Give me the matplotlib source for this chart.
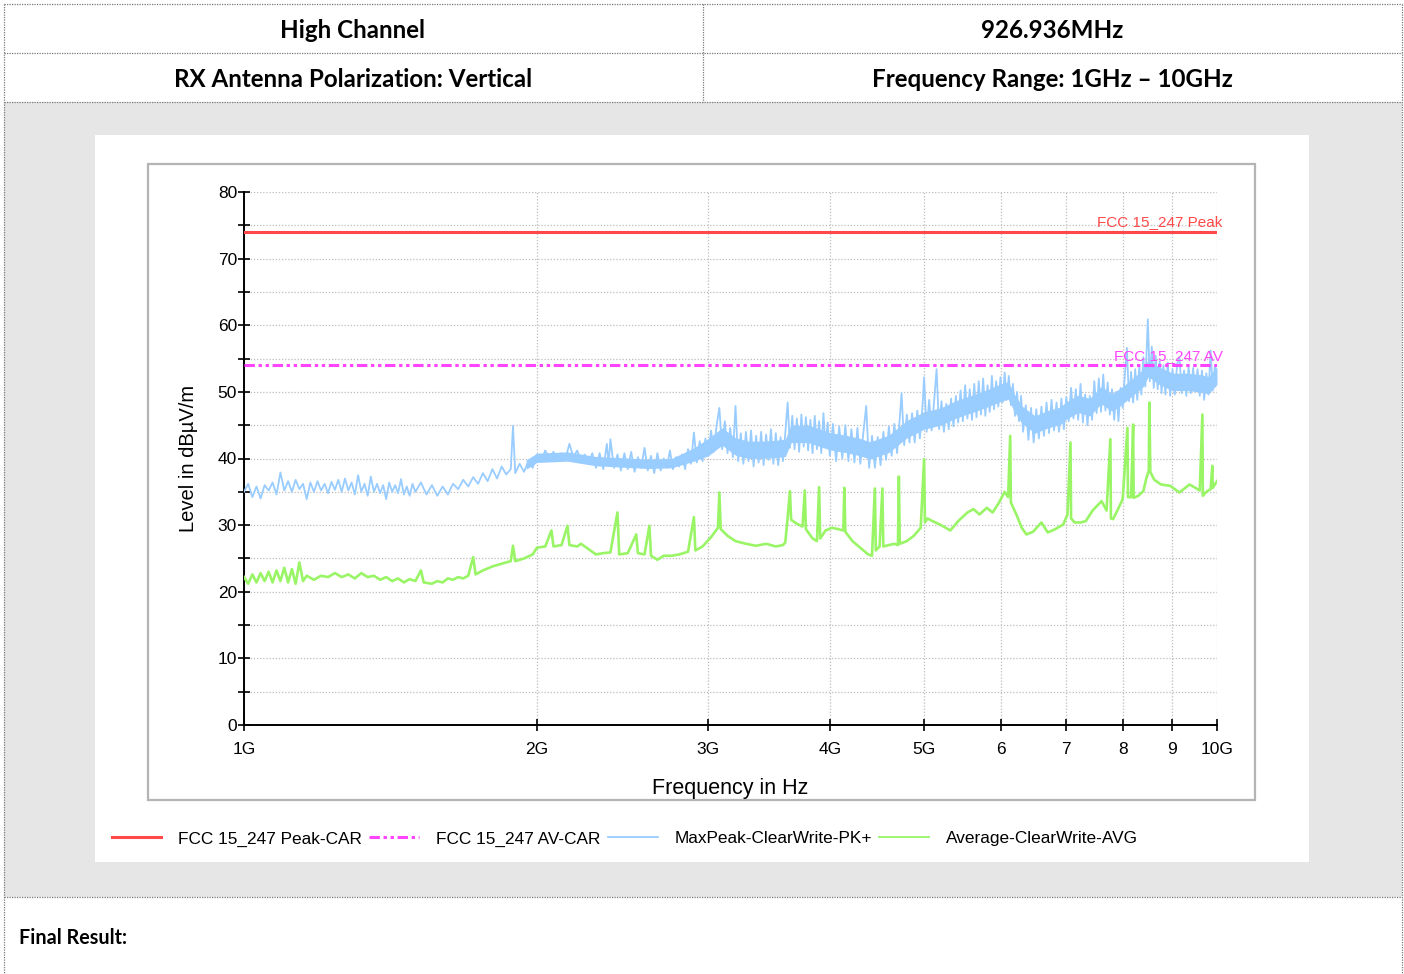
import matplotlib
matplotlib.use("Agg")
import matplotlib.pyplot as plt
from matplotlib.lines import Line2D
from matplotlib.patches import Rectangle
import matplotlib.transforms as mtransforms

# ---- data (frequency in GHz, level in dBuV/m) ----
peak_limit = 74.0
avg_limit = 54.0

pk_freq = [
    1.00, 1.01, 1.02, 1.03, 1.04, 1.05, 1.06, 1.07, 1.08, 1.09, 1.10, 1.11, 1.12, 1.13, 1.14, 1.15,
    1.16, 1.17, 1.18, 1.19, 1.20, 1.21, 1.22, 1.23, 1.24, 1.25, 1.26, 1.27, 1.28, 1.29, 1.30, 1.31,
    1.32, 1.33, 1.34, 1.35, 1.36, 1.37, 1.38, 1.39, 1.40, 1.41, 1.42, 1.43, 1.44, 1.45, 1.46, 1.47,
    1.48, 1.49, 1.50, 1.52, 1.54, 1.56, 1.58, 1.60, 1.62, 1.64, 1.66, 1.68, 1.70, 1.72, 1.74, 1.76,
    1.78, 1.80, 1.82, 1.84, 1.86, 1.88, 1.89, 1.90, 1.92, 1.94, 1.96, 1.98, 2.00, 2.02, 2.04, 2.06,
    2.08, 2.10, 2.12, 2.14, 2.16, 2.18, 2.20, 2.22, 2.24, 2.26, 2.28, 2.30, 2.32, 2.34, 2.36, 2.37,
    2.38, 2.40, 2.42, 2.44, 2.46, 2.48, 2.50, 2.52, 2.54, 2.56, 2.58, 2.60, 2.62, 2.64, 2.66, 2.68,
    2.70, 2.72, 2.74, 2.76, 2.78, 2.80, 2.82, 2.84, 2.86, 2.88, 2.90, 2.92, 2.94, 2.96, 2.98, 3.00,
    3.02, 3.04, 3.06, 3.08, 3.10, 3.12, 3.14, 3.16, 3.18, 3.20, 3.22, 3.24, 3.26, 3.28, 3.30, 3.32,
    3.34, 3.36, 3.38, 3.40, 3.42, 3.44, 3.46, 3.48, 3.50, 3.52, 3.54, 3.56, 3.58, 3.60, 3.62, 3.64,
    3.66, 3.68, 3.70, 3.72, 3.74, 3.76, 3.78, 3.80, 3.82, 3.84, 3.86, 3.88, 3.90, 3.92, 3.94, 3.96,
    3.98, 4.00, 4.03, 4.06, 4.09, 4.12, 4.15, 4.18, 4.21, 4.24, 4.27, 4.30, 4.33, 4.36, 4.39, 4.42,
    4.45, 4.48, 4.51, 4.54, 4.57, 4.60, 4.63, 4.66, 4.69, 4.72, 4.74, 4.77, 4.80, 4.83, 4.86, 4.89,
    4.92, 4.95, 4.98, 5.00, 5.03, 5.06, 5.09, 5.12, 5.15, 5.18, 5.21, 5.24, 5.27, 5.30, 5.33, 5.36,
    5.39, 5.42, 5.45, 5.48, 5.51, 5.54, 5.57, 5.60, 5.63, 5.66, 5.69, 5.72, 5.75, 5.78, 5.81, 5.84,
    5.87, 5.90, 5.93, 5.96, 5.99, 6.02, 6.05, 6.08, 6.11, 6.14, 6.17, 6.20, 6.23, 6.26, 6.29, 6.32,
    6.36, 6.40, 6.44, 6.48, 6.52, 6.56, 6.60, 6.64, 6.68, 6.72, 6.76, 6.80, 6.84, 6.88, 6.92, 6.96,
    7.00, 7.04, 7.08, 7.12, 7.16, 7.20, 7.24, 7.28, 7.32, 7.36, 7.40, 7.44, 7.48, 7.52, 7.56, 7.60,
    7.64, 7.68, 7.72, 7.76, 7.80, 7.84, 7.88, 7.92, 7.96, 8.00, 8.04, 8.08, 8.12, 8.16, 8.20, 8.24,
    8.28, 8.32, 8.36, 8.40, 8.44, 8.49, 8.53, 8.57, 8.61, 8.65, 8.69, 8.73, 8.77, 8.81, 8.85, 8.90,
    8.95, 9.00, 9.05, 9.10, 9.15, 9.20, 9.25, 9.30, 9.35, 9.40, 9.45, 9.50, 9.55, 9.60, 9.65, 9.70,
    9.75, 9.80, 9.85, 9.90, 9.95, 10.00,
]
pk_level = [
    35.0, 36.2, 34.2, 35.8, 34.0, 36.0, 35.2, 36.4, 34.6, 37.9, 35.2, 36.6, 35.0, 36.8, 35.4, 36.2,
    33.9, 36.4, 35.0, 36.6, 35.2, 36.2, 34.8, 36.5, 35.3, 36.8, 35.0, 37.0, 35.2, 36.4, 34.6, 37.5,
    35.0, 36.2, 34.4, 37.3, 35.0, 36.2, 34.8, 36.0, 33.9, 36.4, 35.0, 36.0, 34.8, 36.9, 34.6, 35.8,
    34.4, 36.2, 35.0, 36.4, 34.6, 36.0, 34.4, 35.8, 34.6, 36.2, 35.4, 36.8, 35.8, 37.2, 36.2, 37.8,
    36.6, 38.4, 37.0, 38.8, 37.6, 38.4, 44.9, 37.8, 39.2, 38.0, 39.6, 38.6, 40.6, 39.6, 41.2, 40.0,
    41.0, 39.8, 40.8, 40.0, 42.2, 40.2, 41.2, 39.8, 40.6, 39.2, 40.8, 38.6, 40.8, 38.4, 42.2, 39.0,
    42.9, 38.6, 40.6, 38.2, 40.8, 38.4, 41.0, 38.0, 40.2, 38.6, 41.6, 38.2, 40.4, 37.8, 40.8, 38.2,
    40.0, 38.6, 41.2, 38.4, 40.2, 38.8, 40.6, 38.4, 41.4, 39.2, 43.9, 39.4, 42.6, 39.6, 43.0, 40.4,
    44.2, 41.0, 45.0, 47.6, 41.4, 45.6, 40.8, 44.6, 40.2, 47.9, 39.6, 43.8, 39.2, 44.0, 39.6, 44.2,
    38.8, 43.4, 39.4, 44.0, 39.0, 43.6, 39.8, 44.4, 39.2, 43.8, 39.0, 43.2, 39.6, 43.8, 48.4, 41.6,
    46.4, 41.4, 46.0, 41.0, 46.6, 41.8, 46.2, 41.2, 45.8, 40.8, 46.4, 41.4, 45.6, 40.8, 46.8, 41.8,
    45.4, 40.4, 45.2, 39.6, 44.8, 40.0, 45.0, 39.6, 44.4, 39.4, 44.6, 39.2, 43.8, 47.9, 38.6, 43.4,
    38.6, 43.2, 39.0, 44.0, 39.8, 44.8, 40.4, 45.2, 40.8, 46.0, 49.8, 42.0, 46.6, 42.4, 46.8, 42.4,
    47.2, 43.0, 47.6, 52.2, 44.0, 48.8, 44.2, 48.6, 53.4, 44.4, 48.6, 44.0, 48.2, 44.4, 49.0, 44.8,
    49.4, 45.4, 50.2, 45.6, 51.0, 46.0, 50.4, 45.8, 51.2, 46.2, 51.6, 46.6, 52.0, 46.4, 51.0, 47.0,
    52.4, 47.4, 51.6, 47.8, 52.2, 48.4, 52.9, 48.8, 52.4, 48.0, 51.2, 46.4, 50.0, 45.6, 49.4, 44.0,
    48.0, 42.8, 47.6, 42.4, 47.4, 43.0, 47.8, 43.4, 48.4, 43.8, 48.8, 44.2, 48.4, 44.0, 49.0, 44.4,
    49.2, 45.6, 50.6, 46.0, 50.4, 45.8, 51.2, 45.4, 49.6, 45.0, 49.4, 45.8, 51.6, 46.8, 52.0, 47.0,
    52.6, 47.2, 51.4, 46.6, 50.4, 45.8, 50.0, 45.6, 50.6, 47.6, 52.4, 56.6, 48.6, 53.0, 48.4, 53.4,
    48.8, 53.8, 49.6, 55.2, 50.8, 60.9, 51.6, 56.8, 50.6, 55.4, 50.4, 54.6, 49.8, 54.0, 49.6, 54.4,
    49.4, 53.4, 49.6, 54.2, 55.2, 49.8, 53.2, 49.4, 53.8, 49.8, 53.6, 50.0, 53.4, 49.4, 53.2, 48.8,
    52.8, 49.6, 56.2, 50.2, 54.0, 52.6,
]

# dense core of the max-peak trace: lower / upper edge
band_freq = [1.95, 2.0, 2.15, 2.3, 2.45, 2.6, 2.75, 2.9, 3.0, 3.1, 3.2, 3.3, 3.4, 3.5, 3.6, 3.65,
             3.8, 4.0, 4.15, 4.3, 4.4, 4.6, 4.8, 5.0, 5.2, 5.4, 5.6, 5.8, 6.0, 6.1, 6.2, 6.3,
             6.5, 6.7, 6.9, 7.0, 7.2, 7.4, 7.6, 7.8, 8.0, 8.2, 8.4, 8.5, 8.7, 9.0, 9.3, 9.6,
             9.8, 10.0]
band_lo = [38.4, 39.4, 39.6, 38.9, 38.7, 38.5, 38.6, 39.6, 40.4, 42.0, 40.5, 40.0, 40.0, 40.1, 40.3, 42.4,
           42.4, 41.3, 40.9, 40.4, 39.9, 40.9, 43.1, 44.4, 45.0, 46.1, 46.9, 47.7, 48.6, 48.9, 46.9, 45.3,
           43.8, 44.6, 45.1, 45.9, 46.9, 46.4, 48.2, 47.1, 48.2, 49.5, 50.8, 52.3, 51.2, 50.2, 50.2, 50.0,
           49.7, 51.1]
band_hi = [39.8, 40.8, 41.0, 40.3, 40.1, 39.9, 40.0, 41.6, 43.0, 44.6, 43.1, 42.6, 42.6, 42.7, 42.9, 45.0,
           45.0, 43.9, 43.5, 43.0, 42.5, 43.5, 45.7, 47.0, 47.6, 48.7, 49.5, 50.3, 51.2, 51.5, 49.5, 47.9,
           46.4, 47.2, 47.7, 48.5, 49.5, 49.0, 50.8, 49.7, 50.8, 52.1, 53.4, 54.9, 53.8, 52.8, 52.8, 52.6,
           52.3, 53.7]

av_freq = [
    1.00, 1.01, 1.02, 1.03, 1.04, 1.05, 1.06, 1.07, 1.08, 1.09, 1.10, 1.11, 1.12, 1.13, 1.14, 1.15,
    1.16, 1.18, 1.20, 1.22, 1.24, 1.26, 1.28, 1.30, 1.32, 1.34, 1.36, 1.38, 1.40, 1.42, 1.44, 1.46,
    1.48, 1.50, 1.52, 1.53, 1.56, 1.58, 1.60, 1.62, 1.64, 1.66, 1.68, 1.70, 1.72, 1.73, 1.76, 1.80,
    1.84, 1.88, 1.89, 1.90, 1.94, 1.98, 2.00, 2.04, 2.07, 2.08, 2.12, 2.15, 2.16, 2.20, 2.22, 2.26,
    2.30, 2.34, 2.38, 2.42, 2.43, 2.48, 2.53, 2.54, 2.58, 2.61, 2.62, 2.66, 2.70, 2.75, 2.80, 2.86,
    2.90, 2.91, 2.96, 3.02, 3.07, 3.08, 3.09, 3.14, 3.20, 3.28, 3.36, 3.44, 3.52, 3.58, 3.60, 3.62,
    3.64, 3.65, 3.70, 3.75, 3.77, 3.78, 3.84, 3.88, 3.90, 3.91, 3.96, 4.02, 4.08, 4.13, 4.14, 4.15,
    4.22, 4.30, 4.38, 4.42, 4.45, 4.46, 4.50, 4.53, 4.54, 4.60, 4.66, 4.70, 4.71, 4.72, 4.80, 4.88,
    4.96, 5.00, 5.01, 5.04, 5.10, 5.19, 5.32, 5.42, 5.54, 5.62, 5.70, 5.80, 5.88, 5.96, 6.05, 6.10,
    6.13, 6.14, 6.22, 6.30, 6.37, 6.47, 6.60, 6.70, 6.82, 6.95, 7.02, 7.07, 7.08, 7.14, 7.24, 7.33,
    7.45, 7.61, 7.70, 7.77, 7.78, 7.82, 7.90, 8.00, 8.09, 8.10, 8.16, 8.20, 8.21, 8.30, 8.40, 8.46,
    8.51, 8.52, 8.54, 8.62, 8.76, 8.95, 9.15, 9.37, 9.50, 9.60, 9.66, 9.67, 9.75, 9.85, 9.89, 9.90,
    10.00,
]
av_level = [
    22.2, 21.2, 22.6, 21.4, 22.8, 21.6, 23.0, 21.4, 23.2, 21.6, 23.6, 21.4, 23.4, 21.2, 24.4, 21.6,
    22.4, 21.8, 22.4, 22.2, 22.8, 22.2, 22.6, 22.0, 22.8, 22.2, 22.4, 21.8, 22.2, 21.6, 22.0, 21.4,
    21.9, 21.6, 23.2, 21.4, 21.2, 21.6, 21.4, 22.0, 21.8, 22.2, 22.0, 22.4, 25.2, 22.6, 23.2, 23.8,
    24.2, 24.6, 26.9, 24.6, 25.0, 25.6, 26.6, 26.8, 29.2, 26.8, 27.0, 29.9, 27.0, 26.8, 27.2, 26.4,
    25.6, 25.8, 25.9, 31.9, 25.6, 25.8, 28.6, 25.8, 25.6, 29.9, 25.4, 24.8, 25.4, 25.4, 25.6, 26.0,
    31.2, 26.2, 26.8, 28.2, 29.6, 34.9, 29.4, 28.4, 27.6, 27.2, 26.9, 27.2, 26.8, 27.0, 27.4, 31.1,
    35.1, 30.8, 30.2, 29.8, 35.2, 29.4, 28.0, 27.6, 35.7, 28.0, 29.2, 29.6, 29.4, 29.2, 35.6, 29.0,
    27.6, 26.6, 25.6, 25.4, 35.5, 26.2, 26.8, 35.5, 26.8, 27.0, 27.2, 27.0, 37.3, 27.2, 27.6, 28.4,
    29.6, 39.9, 30.4, 31.0, 30.6, 30.1, 29.2, 30.6, 31.9, 32.4, 31.6, 32.6, 31.9, 33.2, 35.0, 34.2,
    43.4, 33.4, 31.6, 29.6, 28.6, 29.0, 30.4, 28.9, 29.4, 30.1, 31.6, 42.4, 31.0, 30.4, 30.4, 30.6,
    32.2, 33.6, 32.2, 42.9, 31.0, 30.9, 32.2, 33.9, 44.6, 34.2, 34.2, 45.1, 34.1, 34.4, 35.1, 37.0,
    38.2, 48.4, 38.0, 36.8, 36.1, 35.9, 34.9, 36.1, 35.6, 35.2, 46.6, 34.4, 35.0, 35.4, 38.9, 35.6,
    36.6,
]

freq_ticks = [1, 2, 3, 4, 5, 6, 7, 8, 9, 10]
freq_tick_labels = ["1G", "2G", "3G", "4G", "5G", "6", "7", "8", "9", "10G"]

header_left = ["High Channel", "RX Antenna Polarization: Vertical"]
header_right = ["926.936MHz", "Frequency Range: 1GHz \u2013 10GHz"]

RED = "#ff4848"
MAGENTA = "#ff44ff"
BLUE = "#99ccff"
GREEN = "#99f566"
SANS = ["Liberation Sans", "DejaVu Sans"]

W, H = 1404, 974
fig = plt.figure(figsize=(W / 100, H / 100), dpi=100)
fig.patch.set_facecolor("white")

# background page layout in pixel coordinates
bg = fig.add_axes([0, 0, 1, 1])
bg.set_xlim(0, W)
bg.set_ylim(H, 0)
bg.axis("off")
bg.add_patch(Rectangle((4, 102), 1398, 795, facecolor="#e6e6e6", edgecolor="none"))
bg.add_patch(Rectangle((95, 135), 1214, 727, facecolor="white", edgecolor="none"))
bg.add_patch(Rectangle((148, 164), 1107, 636, facecolor="white", edgecolor="#b4b4b4", lw=1.6))
dot = dict(color="#7a7a7a", lw=0.9, linestyle=(0, (1, 1)))
for yy in [4, 53, 102, 897]:
    bg.plot([4, 1402], [yy, yy], **dot)
bg.plot([4, 4], [4, 974], **dot)
bg.plot([1402, 1402], [4, 974], **dot)
bg.plot([703, 703], [4, 102], **dot)

hfont = dict(family=["Lato", "DejaVu Sans"], fontweight="bold", fontsize=17.4, color="black")
for i, yy in enumerate([30.5, 79.5]):
    bg.text(353, yy, header_left[i], ha="center", va="center", **hfont)
    bg.text(1052, yy, header_right[i], ha="center", va="center", **hfont)
bg.text(19, 938, "Final Result:", ha="left", va="center",
        family=["Lato", "DejaVu Sans"], fontweight="bold", fontsize=14.2)

# main chart
ax = fig.add_axes([244 / W, (H - 725) / H, 973 / W, 533 / H])
ax.set_facecolor("none")
pk_hz = [f * 1e9 for f in pk_freq]
av_hz = [f * 1e9 for f in av_freq]
band_hz = [f * 1e9 for f in band_freq]

ax.fill_between(band_hz, band_lo, band_hi, color=BLUE, lw=0, zorder=3)
ax.plot(pk_hz, pk_level, color=BLUE, lw=1.3, zorder=3)
ax.plot(av_hz, av_level, color=GREEN, lw=1.9, zorder=4)
ax.axhline(peak_limit, color=RED, lw=2.2, zorder=5)
ax.axhline(avg_limit, color=MAGENTA, lw=2.2, dashes=(3.4, 1.2, 1.1, 1.2, 1.1, 1.2), zorder=5)

ax.set_xscale("log")
ax.set_xlim(1e9, 1e10)
ax.set_ylim(0, 80)
ax.set_xticks([f * 1e9 for f in freq_ticks])
ax.set_xticklabels(freq_tick_labels)
ax.xaxis.set_minor_locator(matplotlib.ticker.NullLocator())
ax.set_yticks(range(0, 81, 10))
ax.set_yticks(range(5, 80, 10), minor=True)

for s in ["top", "right"]:
    ax.spines[s].set_visible(False)
for s in ["left", "bottom"]:
    ax.spines[s].set_linewidth(1.4)
    ax.spines[s].set_color("black")

ax.grid(True, which="both", axis="y", color="#bdbdbd", lw=0.9, linestyle=(0, (1, 1.5)))
ax.grid(True, which="major", axis="x", color="#bdbdbd", lw=0.9, linestyle=(0, (1, 1.5)))
ax.set_axisbelow(True)
ax.tick_params(which="both", direction="inout", length=9, width=1.2, colors="black", labelsize=12.5)
ax.tick_params(axis="y", pad=0.5)
ax.tick_params(axis="x", pad=8)
for lab in ax.get_xticklabels() + ax.get_yticklabels():
    lab.set_family(SANS)

ax.set_xlabel("Frequency in Hz", fontsize=15.5, family=SANS, labelpad=15)
ax.set_ylabel("Level in dB\u00b5V/m", fontsize=14.5, family=SANS, labelpad=14)

tr = mtransforms.blended_transform_factory(ax.transAxes, ax.transData)
ax.text(1.006, peak_limit + 0.4, "FCC 15_247 Peak", color=RED, fontsize=11, ha="right", va="bottom",
        transform=tr, family=SANS, zorder=6)
ax.text(1.006, avg_limit + 0.4, "FCC 15_247 AV", color=MAGENTA, fontsize=11, ha="right", va="bottom",
        transform=tr, family=SANS, zorder=6)

handles = [
    Line2D([], [], color=RED, lw=2.2),
    Line2D([], [], color=MAGENTA, lw=2.2, dashes=(3.4, 1.2, 1.1, 1.2, 1.1, 1.2)),
    Line2D([], [], color=BLUE, lw=1.3),
    Line2D([], [], color=GREEN, lw=1.3),
]
labels = ["FCC 15_247 Peak-CAR", "FCC 15_247 AV-CAR", "MaxPeak-ClearWrite-PK+", "Average-ClearWrite-AVG"]
fig.legend(handles, labels, loc="center left", bbox_to_anchor=(96 / W, 1 - 839 / H), ncol=4,
           frameon=False, handlelength=2.9, handletextpad=0.95, columnspacing=0.45,
           prop={"family": SANS, "size": 12.4})

fig.savefig("out.png", dpi=100)
